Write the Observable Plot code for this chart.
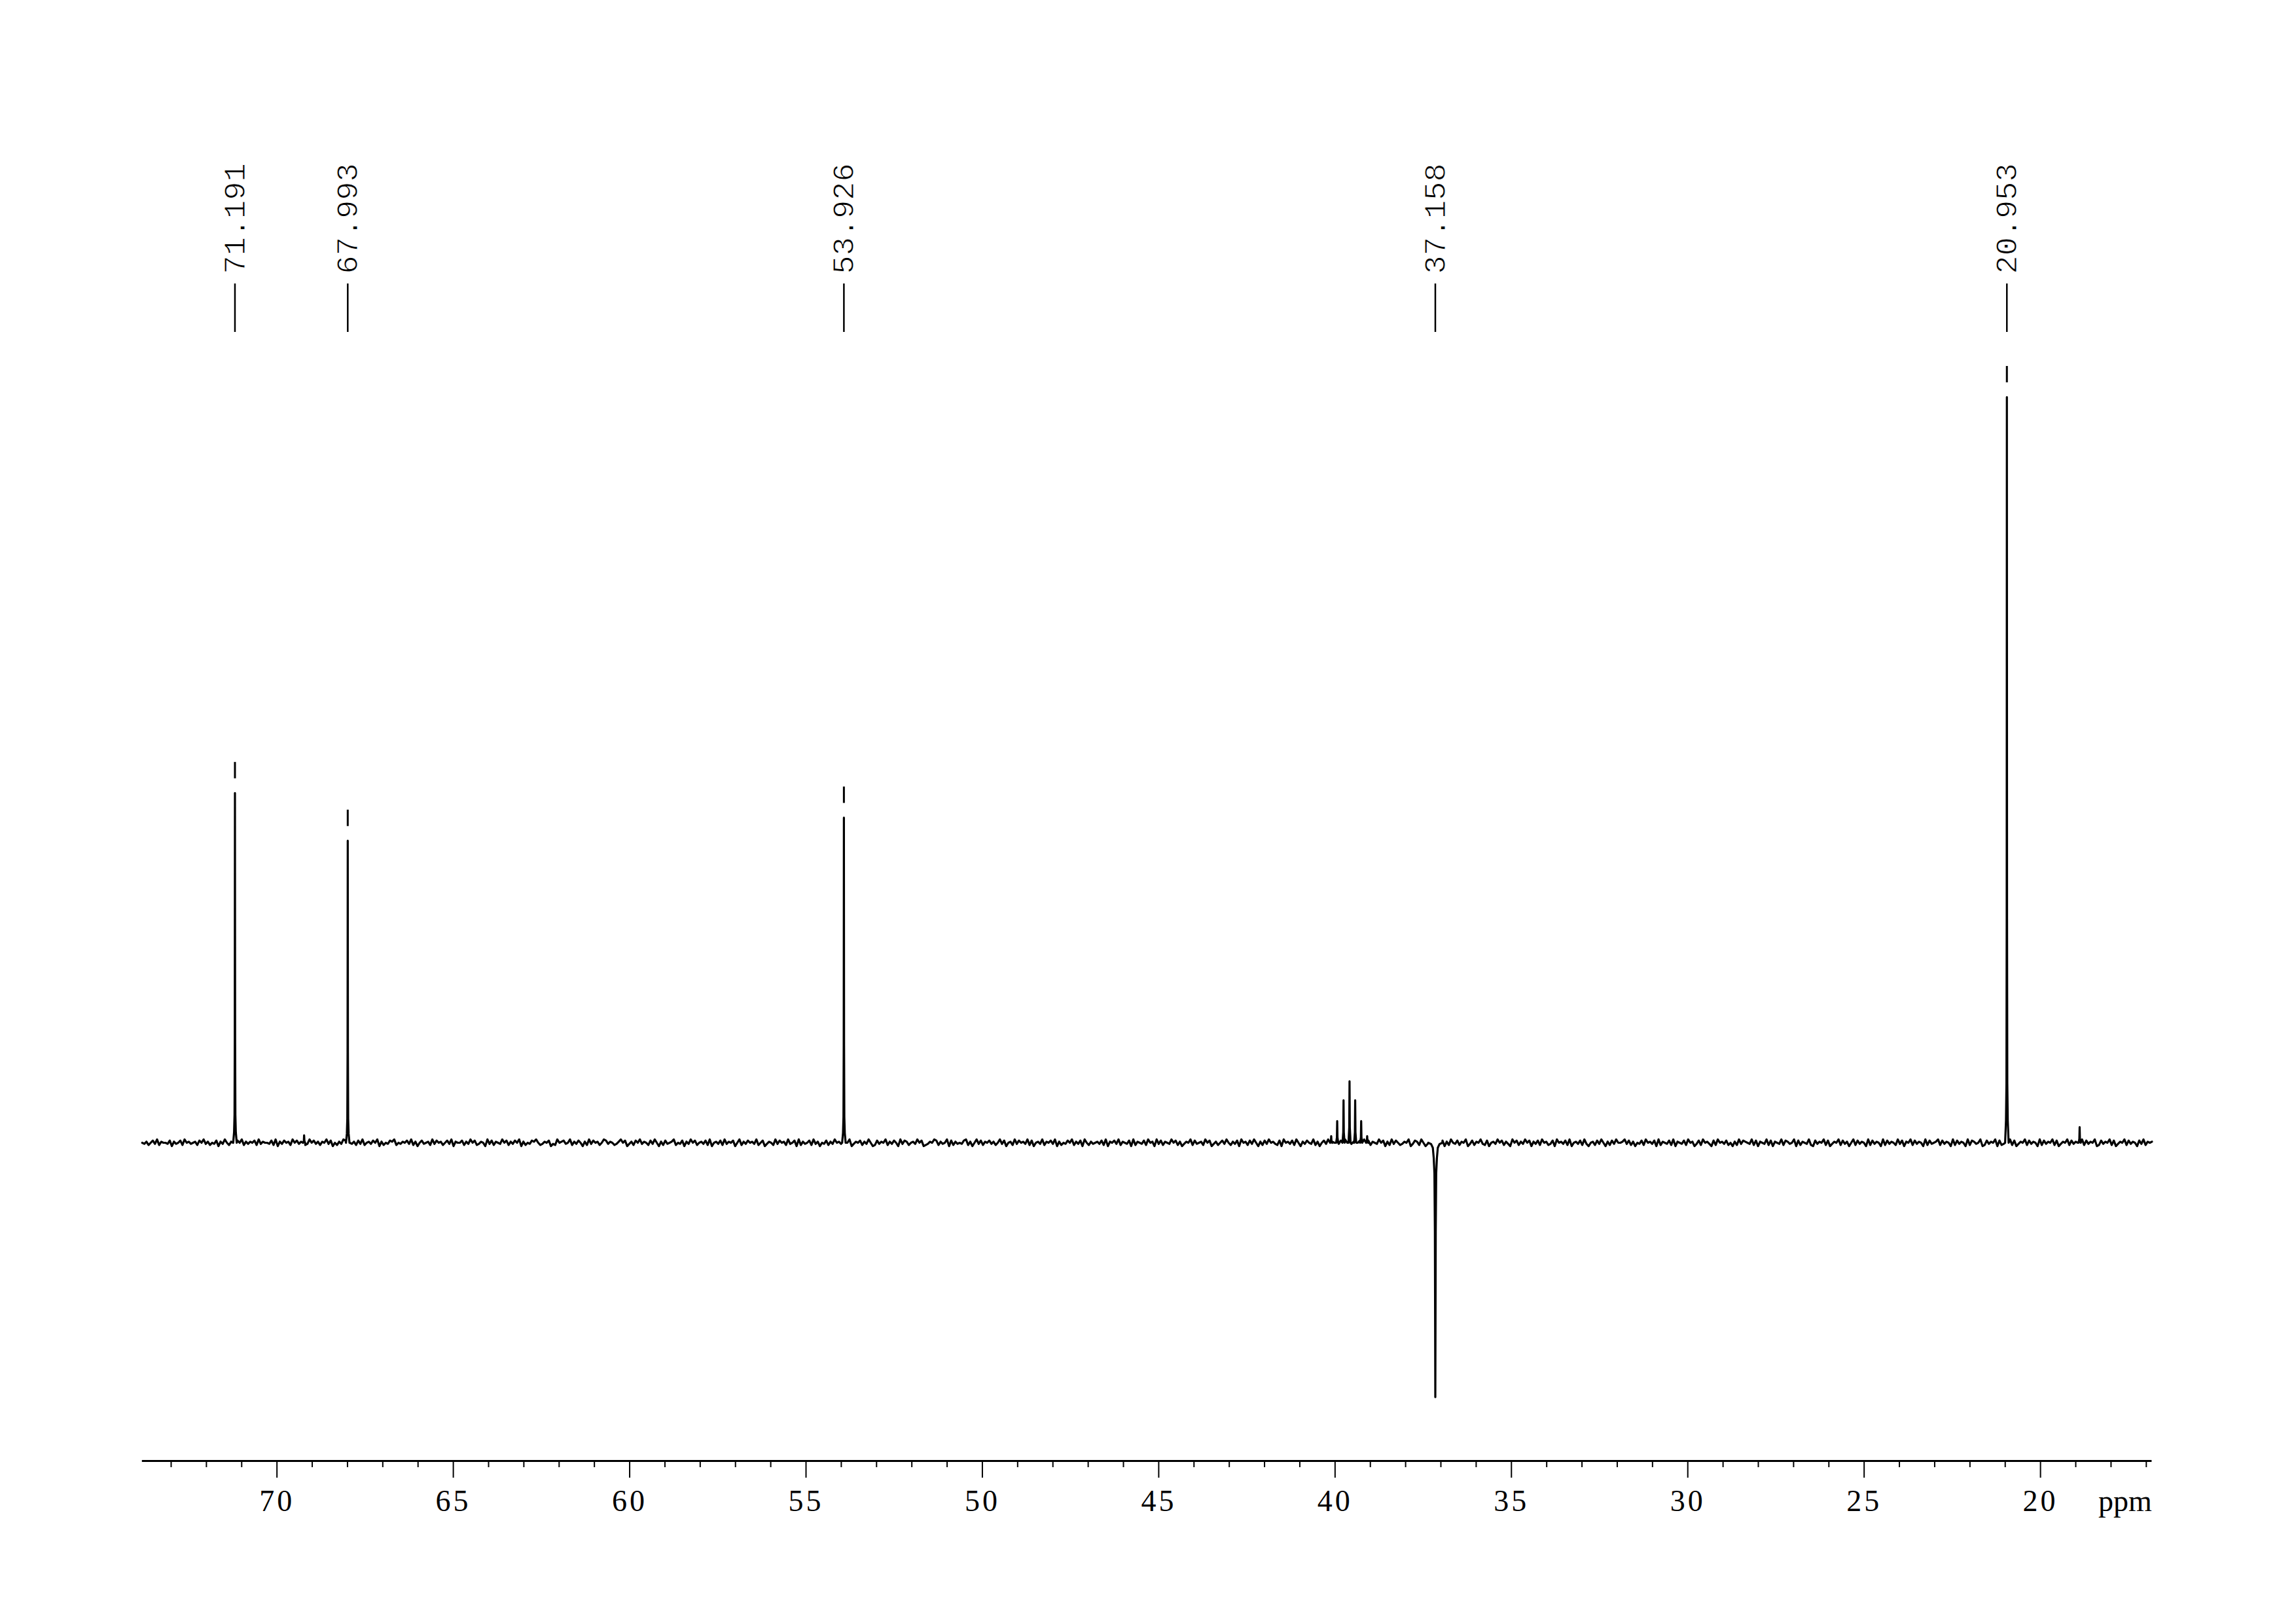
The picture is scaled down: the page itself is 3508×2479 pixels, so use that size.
<!DOCTYPE html>
<html>
<head>
<meta charset="utf-8">
<script src="https://cdn.jsdelivr.net/npm/d3@7"></script>
<script src="https://cdn.jsdelivr.net/npm/@observablehq/plot@0.6"></script>
<style>
html, body { margin: 0; padding: 0; background: #fff; }
#chart svg { display: block; }
.nmr g[aria-label="x-axis tick label"] text { letter-spacing: 4px; }
</style>
</head>
<body>
<div id="chart"></div>
<script>
// ---- data ----
// labelled peaks (ppm) shown at the top
const labelPpm = [71.191, 67.993, 53.926, 37.158, 20.953];

// all peaks in the spectrum: position (ppm), intensity (20.953 peak = 100), shape type
const peakPpm    = [71.191, 67.993, 53.926, 37.158, 20.953, 69.23, 18.89, 40.11, 39.94, 39.76, 39.59, 39.43, 39.26, 39.09];
const peakHeight = [46.9,   40.5,   43.6,   -34.1,  100,    1.0,   2.1,   0.9,   2.9,   5.7,   8.25,  5.7,   2.9,   0.9];
const peakKind   = ["main", "main", "main", "neg",  "main", "thin","thin","thin","thin","thin","thin","thin","thin","thin"];

// line-shape points (ppm offset, fraction of height) read from the zoomed peaks
const shapeOffsets = {
  main: [-0.05, -0.025, -0.012, -0.005, 0, 0.005, 0.012, 0.025, 0.05],
  thin: [-0.03, -0.008, 0, 0.008, 0.03],
  neg:  [-0.2, -0.12, -0.07, -0.045, -0.025, -0.012, 0, 0.012, 0.025, 0.045, 0.07, 0.12, 0.2]
};
const shapeFractions = {
  main: [0, 0.03, 0.08, 0.3, 1, 0.3, 0.08, 0.03, 0],
  thin: [0, 0.25, 1, 0.25, 0],
  neg:  [0, 0.005, 0.02, 0.06, 0.12, 0.35, 1, 0.35, 0.12, 0.06, 0.02, 0.005, 0]
};

// baseline noise levels along the spectrum (4 = zero, one step = 0.15 intensity units)
const noiseLevels = (
  "43524637254436153462745345264735243615374254364725" +
  "35462735443627153645274635423746352547361425376443" +
  "52637245364715243657243546372514634527364524637154" +
  "46253746235417362543746253647152436574235461327456" +
  "34725364152736452476354235746135264735426374152634" +
  "57243615374624536271453627354614725364537246135427" +
  "36452734617253462735143625374536247135462537412635" +
  "47253641736524537461235476253471625343672514736254" +
  "63524736145273645372614537254637152436472536174253" +
  "45362715463725436172543627451736254374625135472634" +
  "52746135246374253617452637415263745326174536274153" +
  "64372514637254136274535246173625437461527364235471" +
  "36527413652743615274362547136254732614537462531746" +
  "25374615362745236174536271453627314526374152637445" +
  "73625143627453617254362715436274513627453162745362" +
  "41527365437261543726154372653471625437216354726135" +
  "47263514726354172635417263542736154726354172634572" +
  "63541726354172653471263547162354726135472635417263" +
  "54726135472635417263547126354726135472635416372545"
).split("").map(Number);

// axis ticks
const majorTicks = [70, 65, 60, 55, 50, 45, 40, 35, 30, 25, 20];
const minorTicks = [73, 72, 71, 69, 68, 67, 66, 64, 63, 62, 61, 59, 58, 57, 56, 54, 53, 52, 51,
                    49, 48, 47, 46, 44, 43, 42, 41, 39, 38, 37, 36, 34, 33, 32, 31, 29, 28, 27, 26,
                    24, 23, 22, 21, 19, 18, 17];
const unitLabel = "ppm";

// ---- layout ----
const W = 3508, H = 2479;
const X_LEFT = 73.82, X_RIGHT = 16.84;
const PX_PER_UNIT = 11.39;
const BASE_Y = 1745, AXIS_Y = 2231;
const NOISE_STEP = 0.15;
const yDomain = [-(AXIS_Y - BASE_Y) / PX_PER_UNIT, BASE_Y / PX_PER_UNIT];

// ---- build spectrum trace ----
const peaks = peakPpm.map((p, i) => ({ppm: p, h: peakHeight[i], kind: peakKind[i]}));
const n = noiseLevels.length;
const step = (X_LEFT - X_RIGHT) / (n - 1);
const spectrum = [];
for (let i = 0; i < n; i++) {
  const ppm = X_LEFT - i * step;
  const inside = peaks.some(pk => {
    const offs = shapeOffsets[pk.kind];
    return Math.abs(ppm - pk.ppm) <= Math.max(...offs.map(Math.abs));
  });
  if (!inside) spectrum.push({ppm, v: (noiseLevels[i] - 4) * NOISE_STEP});
}
for (const pk of peaks) {
  const offs = shapeOffsets[pk.kind], fr = shapeFractions[pk.kind];
  offs.forEach((o, j) => spectrum.push({ppm: pk.ppm + o, v: pk.h * fr[j]}));
}
spectrum.sort((a, b) => b.ppm - a.ppm);

const marked = peaks.filter(pk => pk.h > 10);

const chart = Plot.plot({
  width: W,
  height: H,
  marginLeft: 216.8,
  marginRight: W - 3287.4,
  marginTop: 0,
  marginBottom: H - AXIS_Y,
  className: "nmr",
  style: {background: "white", color: "black"},
  x: {domain: [X_LEFT, X_RIGHT], label: null},
  y: {domain: yDomain, axis: null},
  marks: [
    Plot.ruleY([yDomain[0]], {stroke: "black", strokeWidth: 3}),
    Plot.axisX(minorTicks, {anchor: "bottom", tickSize: 10, strokeWidth: 2, tickFormat: () => "", label: null}),
    Plot.axisX(majorTicks, {anchor: "bottom", tickSize: 26, tickPadding: 18, strokeWidth: 2,
      fontSize: 46, fontFamily: "Liberation Serif", tickFormat: d => String(d), label: null}),
    Plot.text([X_RIGHT], {x: d => d, text: () => unitLabel, frameAnchor: "bottom", textAnchor: "end",
      lineAnchor: "top", dy: 44, fontSize: 46, fontFamily: "Liberation Serif"}),
    Plot.line(spectrum, {x: "ppm", y: "v", stroke: "black", strokeWidth: 3.2}),
    Plot.ruleX(marked, {x: "ppm", y1: d => d.h + 22 / PX_PER_UNIT, y2: d => d.h + 47 / PX_PER_UNIT,
      stroke: "black", strokeWidth: 3}),
    Plot.ruleX(labelPpm, {x: d => d, insetTop: 433, insetBottom: AXIS_Y - 507, stroke: "black", strokeWidth: 2.5}),
    Plot.text(labelPpm, {x: d => d, text: d => d.toFixed(3), frameAnchor: "top", dy: 418, rotate: -90,
      textAnchor: "start", lineAnchor: "middle", fontSize: 47, fontFamily: "Liberation Mono",
      fill: "black", stroke: "white", strokeWidth: 1, paintOrder: "normal"})
  ]
});
document.getElementById("chart").appendChild(chart);
</script>
</body>
</html>
